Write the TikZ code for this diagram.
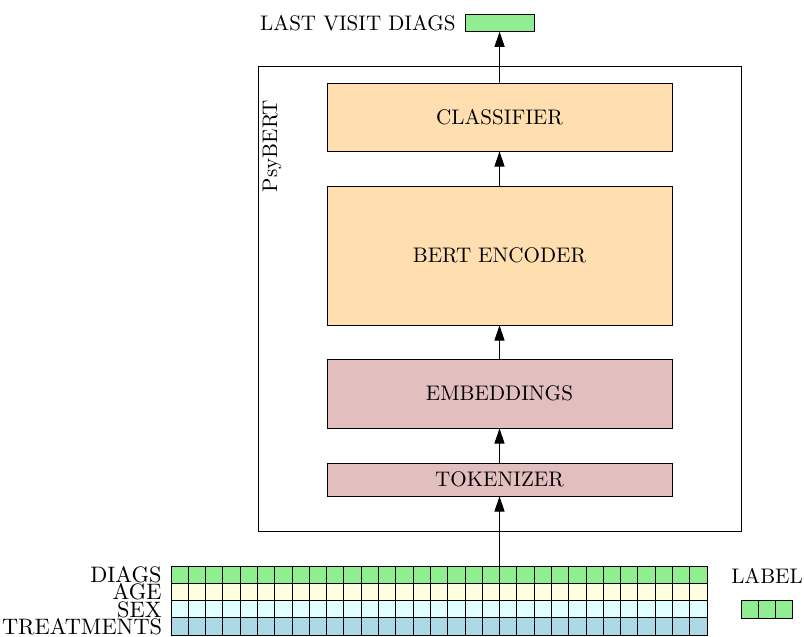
\documentclass[tikz,border=0pt]{standalone}
\usetikzlibrary{arrows.meta}
\definecolor{diagc}{HTML}{90EE90}
\definecolor{agec}{HTML}{FFFFE0}
\definecolor{sexc}{HTML}{E0FFFF}
\definecolor{treatc}{HTML}{ADD8E6}
\definecolor{peach}{HTML}{FFDFB0}
\definecolor{rosy}{HTML}{E2BEBF}
\tikzset{
  blockbox/.style={draw, rectangle, minimum width={345*0.4739pt}, inner sep=0pt},
  orangebox/.style={blockbox, fill=peach},
  pinkbox/.style={blockbox, fill=rosy},
  flow/.style={-{Triangle[length=7.2pt,width=4.8pt]}},
  rowlabel/.style={anchor=east, inner sep=0pt, font=\fontsize{10.6}{11}\selectfont},
  cell/.style={draw},
}
\begin{document}
\begin{tikzpicture}[x=0.4739pt, y=-0.4739pt]
\useasboundingbox (0,0) rectangle (804,637);
% outer PsyBERT frame
\node[draw, rectangle, minimum width={483.5*0.4739pt}, minimum height={465.5*0.4739pt}, inner sep=0pt] (psy) at (499.75,298.75) {};
\node[rotate=90, inner sep=0pt] (psylab) at (272,146) {PsyBERT};
% blocks
\node[orangebox, minimum height={68*0.4739pt}] (cls) at (499.5,117) {CLASSIFIER};
\node[orangebox, minimum height={139*0.4739pt}] (enc) at (499.5,255.5) {BERT ENCODER};
\node[pinkbox, minimum height={69*0.4739pt}] (emb) at (499.5,393.5) {EMBEDDINGS};
\node[pinkbox, minimum height={33*0.4739pt}] (tok) at (499.5,479.5) {TOKENIZER};
% output
\node[draw, fill=diagc, minimum width={69.2*0.4739pt}, minimum height={17.3*0.4739pt}, inner sep=0pt] (lvd) at (499.6,22.65) {};
\node[anchor=east, inner sep=0pt] (lvdlab) at (456,23) {LAST VISIT DIAGS};
% input grid
\foreach \r/\col in {0/diagc,1/agec,2/sexc,3/treatc}{
  \foreach \k in {0,...,30}{
    \draw[cell, fill=\col] ({171+\k*17.29},{566+\r*17.29}) rectangle ++(17.29,17.29);
  }
}
\coordinate (gridtop) at (499.5,566);
\node[rowlabel] (ldiag) at (162,574.8) {DIAGS};
\node[rowlabel] (lage) at (162,592.1) {AGE};
\node[rowlabel] (lsex) at (162,609.4) {SEX};
\node[rowlabel] (ltreat) at (162.5,626.7) {TREATMENTS};
% label
\foreach \k in {0,1,2}{
  \draw[cell, fill=diagc] ({741+\k*17.29},600.7) rectangle ++(17.29,17.29);
}
\node[inner sep=0pt] (labtxt) at (767,576) {LABEL};
% connectors
\draw[flow] (gridtop) -- (tok.south);
\draw[flow] (tok.north) -- (emb.south);
\draw[flow] (emb.north) -- (enc.south);
\draw[flow] (enc.north) -- (cls.south);
\draw[flow] (cls.north) -- (lvd.south);
\end{tikzpicture}
\end{document}
